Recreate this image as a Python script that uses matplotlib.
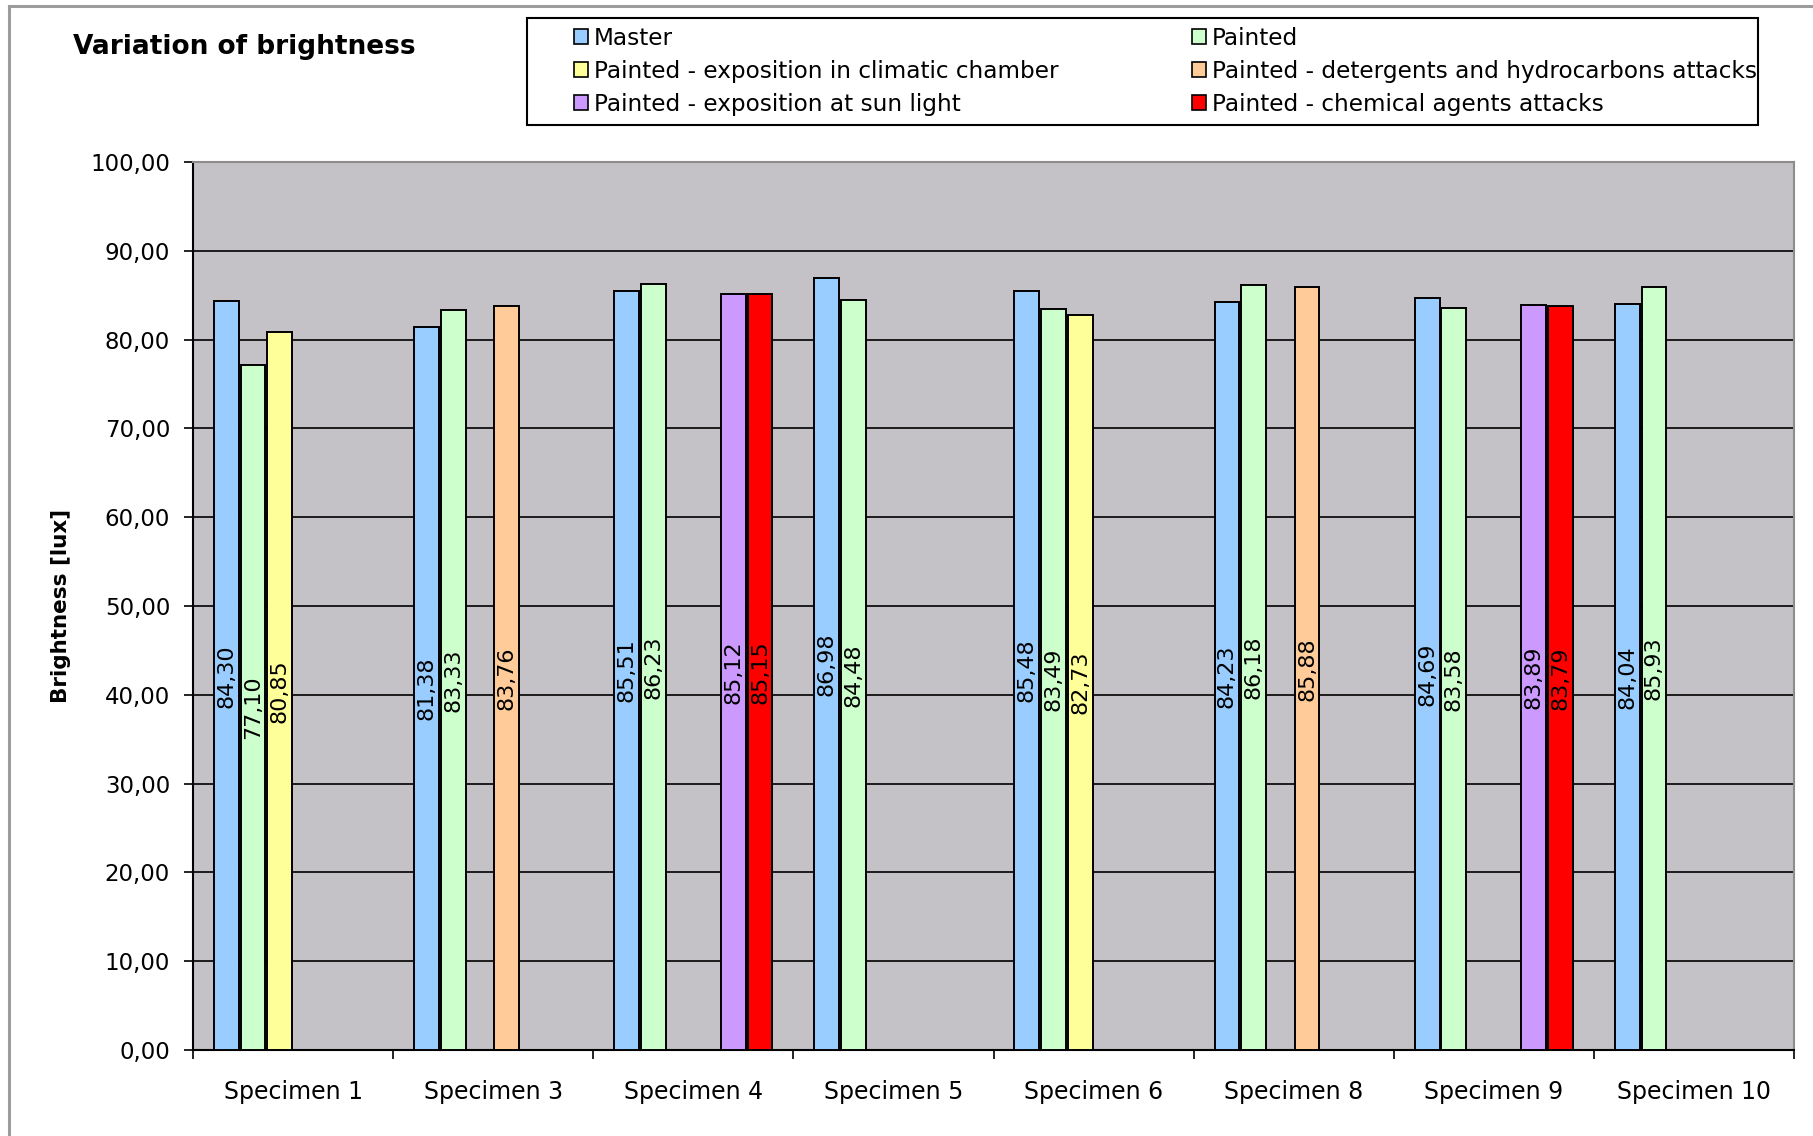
import numpy as np
import matplotlib
matplotlib.use("Agg")
import matplotlib.pyplot as plt
from matplotlib.patches import Rectangle, Patch
from matplotlib.lines import Line2D
from matplotlib.ticker import FixedLocator, FuncFormatter

# ---- data -------------------------------------------------------------
specimens = ["Specimen 1", "Specimen 3", "Specimen 4", "Specimen 5",
             "Specimen 6", "Specimen 8", "Specimen 9", "Specimen 10"]

series_names = [
    "Master",
    "Painted",
    "Painted - exposition in climatic chamber",
    "Painted - detergents and hydrocarbons attacks",
    "Painted - exposition at sun light",
    "Painted - chemical agents attacks",
]

nan = np.nan
master = [84.30, 81.38, 85.51, 86.98, 85.48, 84.23, 84.69, 84.04]
painted = [77.10, 83.33, 86.23, 84.48, 83.49, 86.18, 83.58, 85.93]
climatic = [80.85, nan, nan, nan, 82.73, nan, nan, nan]
detergents = [nan, 83.76, nan, nan, nan, 85.88, nan, nan]
sun_light = [nan, nan, 85.12, nan, nan, nan, 83.89, nan]
chemical = [nan, nan, 85.15, nan, nan, nan, 83.79, nan]

series_values = [master, painted, climatic, detergents, sun_light, chemical]
series_colors = ["#99CCFF", "#CCFFCC", "#FFFF99", "#FFCC99", "#CC99FF", "#FF0000"]

y_ticks = np.arange(0, 101, 10)

# ---- figure -----------------------------------------------------------
W, H = 1813, 1136
fig = plt.figure(figsize=(W / 100, H / 100), dpi=100)
fig.patch.set_facecolor("white")

def fx(px):
    return px / W

def fy(py):
    return 1 - py / H

# outer chart frame (left and top edges)
fig.add_artist(Line2D([fx(9), fx(9)], [fy(6), 0], transform=fig.transFigure,
                      color="#9C9C9C", lw=2.2))
fig.add_artist(Line2D([fx(9), 1], [fy(6), fy(6)], transform=fig.transFigure,
                      color="#9C9C9C", lw=2.2))

ax = fig.add_axes([fx(193), fy(1050), fx(1794) - fx(193), fy(162) - fy(1050)])
ax.set_facecolor("#C4C2C6")

n_cat = len(specimens)
idx = np.arange(n_cat)
group_width = 0.8
slot = group_width / len(series_names)

for j, (vals, color) in enumerate(zip(series_values, series_colors)):
    vals = np.asarray(vals, dtype=float)
    xs = idx - group_width / 2 + slot * (j + 0.5)
    ax.bar(xs, vals, width=slot * 0.93, color=color, edgecolor="black",
           linewidth=1.4, zorder=3)
    for x, v in zip(xs, vals):
        if np.isnan(v):
            continue
        ax.text(x, v / 2, f"{v:.2f}".replace(".", ","), rotation=90,
                ha="center", va="center", fontsize=16, color="black",
                zorder=4)

ax.set_xlim(-0.5, n_cat - 0.5)
ax.set_ylim(0, 100)

ax.yaxis.set_major_locator(FixedLocator(y_ticks))
ax.yaxis.set_major_formatter(FuncFormatter(lambda v, p: f"{v:.2f}".replace(".", ",")))
ax.tick_params(axis="y", direction="out", length=6.5, width=1.2, pad=10,
               labelsize=16.5, color="black")
ax.grid(axis="y", color="black", linewidth=1.2, zorder=1)
ax.set_axisbelow(True)

# category boundaries carry the tick marks, names sit in the middle
ax.xaxis.set_major_locator(FixedLocator(np.arange(-0.5, n_cat, 1.0)))
ax.xaxis.set_major_formatter(FuncFormatter(lambda v, p: ""))
ax.set_xticks(idx, minor=True)
ax.set_xticklabels(specimens, minor=True)
ax.tick_params(axis="x", which="major", direction="out", length=6.5, width=1.2,
               color="black")
ax.tick_params(axis="x", which="minor", length=0, pad=21.5, labelsize=17)

for side in ("left", "bottom"):
    ax.spines[side].set_color("black")
    ax.spines[side].set_linewidth(1.5)
for side in ("top", "right"):
    ax.spines[side].set_color("#8C8C8C")
    ax.spines[side].set_linewidth(1.5)

# ---- titles -----------------------------------------------------------
fig.text(fx(73), fy(47), "Variation of brightness", fontsize=19,
         fontweight="bold", ha="left", va="center")
fig.text(fx(61), fy(606), "Brightness [lux]", fontsize=15.5,
         fontweight="bold", rotation=90, ha="center", va="center")

# ---- legend -----------------------------------------------------------
fig.add_artist(Rectangle((fx(527), fy(125)), fx(1758) - fx(527), fy(18) - fy(125),
                         transform=fig.transFigure, facecolor="white",
                         edgecolor="black", linewidth=1.5, zorder=0))

handles = [Patch(facecolor=c, edgecolor="black", linewidth=1.2) for c in series_colors]
leg_kw = dict(frameon=False, loc="upper left", fontsize=16.7, borderpad=0,
              handlelength=0.6, handleheight=0.6, handletextpad=0.25,
              labelspacing=0.43, borderaxespad=0)
leg1 = fig.legend([handles[0], handles[2], handles[4]],
                  [series_names[0], series_names[2], series_names[4]],
                  bbox_to_anchor=(fx(574), fy(27)), **leg_kw)
leg2 = fig.legend([handles[1], handles[3], handles[5]],
                  [series_names[1], series_names[3], series_names[5]],
                  bbox_to_anchor=(fx(1192), fy(27)), **leg_kw)

fig.savefig("out.png", dpi=100)
